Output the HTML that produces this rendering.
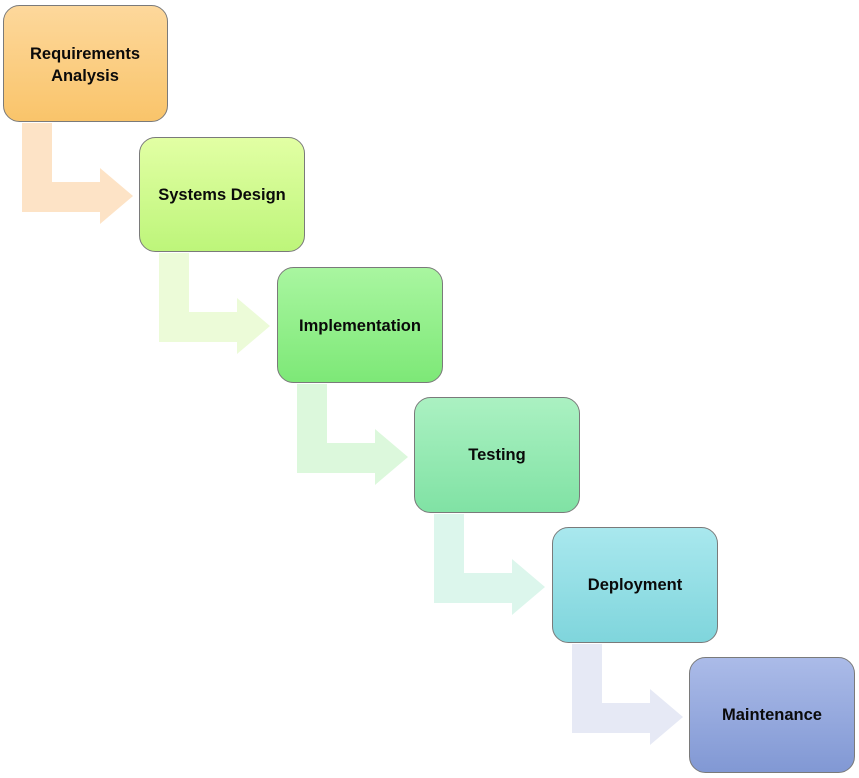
<!DOCTYPE html>
<html><head><meta charset="utf-8"><style>
html,body{margin:0;padding:0;background:#fff;width:859px;height:778px;overflow:hidden}
text{font-family:"Liberation Sans",sans-serif;font-weight:bold;font-size:16.5px;fill:#0a0a0a}
</style></head><body>
<svg width="859" height="778" viewBox="0 0 859 778" xmlns="http://www.w3.org/2000/svg">
<defs>
<linearGradient id="g0" x1="0" y1="0" x2="0" y2="1"><stop offset="0" stop-color="#fdd89c"/><stop offset="1" stop-color="#f9c46a"/></linearGradient>
<linearGradient id="g1" x1="0" y1="0" x2="0" y2="1"><stop offset="0" stop-color="#e2ffa4"/><stop offset="1" stop-color="#bdf57a"/></linearGradient>
<linearGradient id="g2" x1="0" y1="0" x2="0" y2="1"><stop offset="0" stop-color="#a9f6a0"/><stop offset="1" stop-color="#7de877"/></linearGradient>
<linearGradient id="g3" x1="0" y1="0" x2="0" y2="1"><stop offset="0" stop-color="#abf1c2"/><stop offset="1" stop-color="#80e2a4"/></linearGradient>
<linearGradient id="g4" x1="0" y1="0" x2="0" y2="1"><stop offset="0" stop-color="#a9e8ee"/><stop offset="1" stop-color="#7fd5dc"/></linearGradient>
<linearGradient id="g5" x1="0" y1="0" x2="0" y2="1"><stop offset="0" stop-color="#abbbe8"/><stop offset="1" stop-color="#8198d4"/></linearGradient>
</defs>
<g>
<path d="M22,123 H52 V182 H100 V168 L133,196 L100,224 V212 H22 Z" fill="#fde3c6"/>
<path d="M159,253 H189 V312 H237 V298 L270,326 L237,354 V342 H159 Z" fill="#ecfbd8"/>
<path d="M297,384 H327 V443 H375 V429 L408,457 L375,485 V473 H297 Z" fill="#dcf8dc"/>
<path d="M434,514 H464 V573 H512 V559 L545,587 L512,615 V603 H434 Z" fill="#dcf6ec"/>
<path d="M572,644 H602 V703 H650 V689 L683,717 L650,745 V733 H572 Z" fill="#e6e9f5"/>
</g>
<g stroke="#7a7a7a" stroke-width="1">
<rect x="3.5" y="5.5" width="164" height="116" rx="16" fill="url(#g0)"/>
<rect x="139.5" y="137.5" width="165" height="114" rx="16" fill="url(#g1)"/>
<rect x="277.5" y="267.5" width="165" height="115" rx="16" fill="url(#g2)"/>
<rect x="414.5" y="397.5" width="165" height="115" rx="16" fill="url(#g3)"/>
<rect x="552.5" y="527.5" width="165" height="115" rx="16" fill="url(#g4)"/>
<rect x="689.5" y="657.5" width="165" height="115" rx="16" fill="url(#g5)"/>
</g>
<text x="85" y="59" text-anchor="middle">Requirements</text>
<text x="85" y="81" text-anchor="middle">Analysis</text>
<text x="222" y="200" text-anchor="middle">Systems Design</text>
<text x="360" y="331" text-anchor="middle">Implementation</text>
<text x="497" y="460" text-anchor="middle">Testing</text>
<text x="635" y="590" text-anchor="middle">Deployment</text>
<text x="772" y="720" text-anchor="middle">Maintenance</text>
</svg>
</body></html>
